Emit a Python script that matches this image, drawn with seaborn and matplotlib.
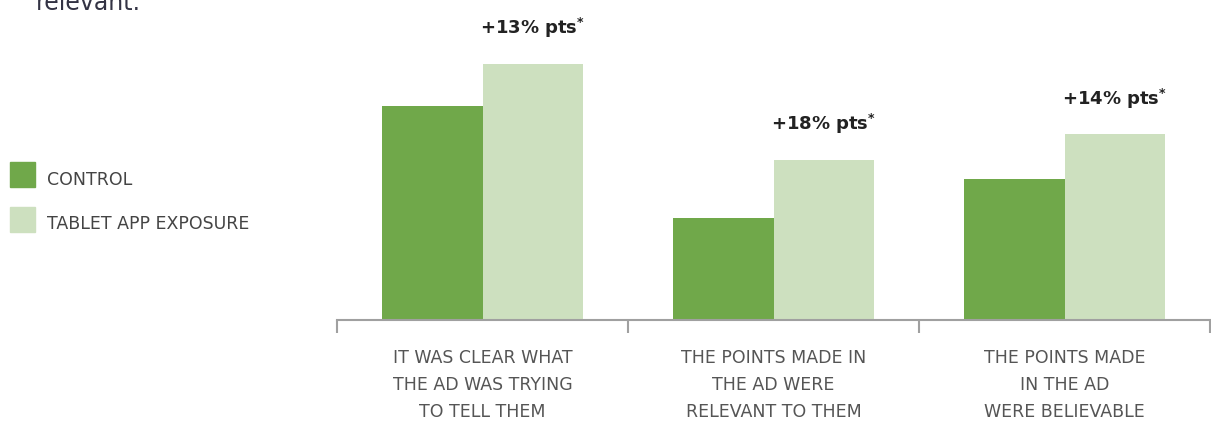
import matplotlib
matplotlib.use("Agg")
import matplotlib.pyplot as plt
import seaborn as sns
import pandas as pd
from matplotlib.patches import Rectangle

categories = [
    "IT WAS CLEAR WHAT\nTHE AD WAS TRYING\nTO TELL THEM",
    "THE POINTS MADE IN\nTHE AD WERE\nRELEVANT TO THEM",
    "THE POINTS MADE\nIN THE AD\nWERE BELIEVABLE",
]
series_names = ["CONTROL", "TABLET APP EXPOSURE"]
control = [67, 32, 44]
tablet = [80, 50, 58]
lifts = ["+13% pts", "+18% pts", "+14% pts"]
colors = ["#70A84A", "#CDE0BF"]

sns.set_theme(style="white")
plt.rcParams["font.family"] = ["DejaVu Sans"]

df = pd.DataFrame({
    "category": categories * 2,
    "value": control + tablet,
    "group": [series_names[0]] * 3 + [series_names[1]] * 3,
})

W, H = 1211, 421
fig = plt.figure(figsize=(W / 100, H / 100), dpi=100)
ax = fig.add_axes([337 / W, 1 - 320 / H, (1210 - 337) / W, 320 / H])

sns.barplot(data=df, x="category", y="value", hue="group", order=categories,
            hue_order=series_names, palette=colors, width=0.69, gap=0,
            saturation=1, legend=False, ax=ax, errorbar=None, linewidth=0)

ax.set_xlim(-0.5, 2.5)
ax.set_ylim(0, 100)
ax.set_xlabel("")
ax.set_ylabel("")
ax.set_yticks([])
for s in ["left", "right", "top"]:
    ax.spines[s].set_visible(False)
ax.spines["bottom"].set_color("#A0A0A0")
ax.spines["bottom"].set_linewidth(1.5)

ax.set_xticks([0, 1, 2])
ax.set_xticklabels(categories, fontsize=12.5, color="#555555", linespacing=1.63)
ax.tick_params(axis="x", which="major", length=0, pad=21)
ax.set_xticks([-0.5, 0.5, 1.5, 2.5], minor=True)
ax.tick_params(axis="x", which="minor", length=9, width=1.5, color="#A0A0A0",
               direction="out", bottom=True)

# lift annotations above the tablet bars
tab_bars = ax.containers[1]
for bar, txt in zip(tab_bars, lifts):
    cx = bar.get_x() + bar.get_width() / 2
    top = bar.get_height()
    ax.annotate(txt + r"$^{\mathbf{*}}$", (cx, top), xytext=(0, 17),
                textcoords="offset points", ha="center", va="bottom",
                fontsize=13, fontweight="bold", color="#222222",
                annotation_clip=False)

# legend at left
for i, (name, col) in enumerate(zip(series_names, colors)):
    y0 = 1 - (187 + i * 45) / H
    fig.patches.append(Rectangle((10 / W, y0), 25 / W, 25 / H, color=col,
                                 transform=fig.transFigure, figure=fig))
    fig.text(47 / W, 1 - (180 + i * 44) / H, name, fontsize=12.5,
             color="#444444", va="center", ha="left")

# cut-off heading at top (as in the reference)
fig.text(36 / W, 1 - 10 / H, "relevant.", fontsize=17, color="#333344",
         va="baseline", ha="left")

fig.savefig("out.png", dpi=100)
